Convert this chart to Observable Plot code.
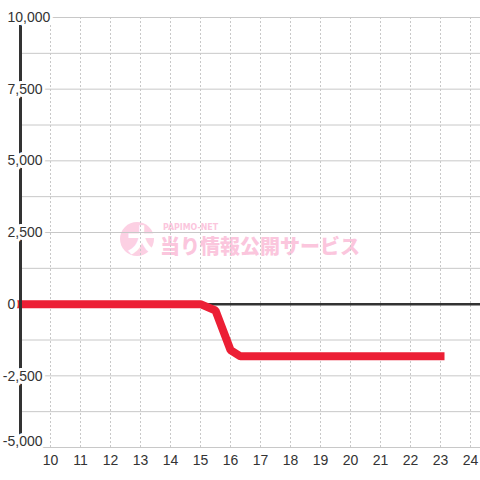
<!DOCTYPE html>
<html>
<head>
<meta charset="utf-8">
<script src="https://cdn.jsdelivr.net/npm/d3@7"></script>
<script src="https://cdn.jsdelivr.net/npm/@observablehq/plot@0.6"></script>
<style>
  html, body { margin: 0; padding: 0; background: #ffffff; }
  #wrap { position: relative; width: 480px; height: 480px; }
  #wm { position: absolute; left: 0; top: 0; }
  #chart { position: absolute; left: 0; top: 0; }
</style>
</head>
<body>
<div id="wrap">
  <svg id="wm" width="480" height="480" xmlns="http://www.w3.org/2000/svg">
    <circle cx="137" cy="239" r="17" fill="#fcd0e3"></circle>
    <text x="142" y="251" text-anchor="middle" font-family="Noto Sans CJK JP" font-weight="900" font-size="30" fill="#ffffff">大</text>
    <text x="163" y="230" font-family="DejaVu Sans" font-weight="bold" font-size="9" fill="#fbc6dd" textLength="55" lengthAdjust="spacingAndGlyphs">PAPIMO-NET</text>
    <text x="160" y="254" font-family="Noto Sans CJK JP" font-weight="900" font-size="20" fill="#fbc6dd" textLength="200" lengthAdjust="spacingAndGlyphs">当り情報公開サービス</text>
  </svg>
  <div id="chart"></div>
</div>
<script>
// Data (hour of day vs. balance)
const hours   = [9, 10, 11, 12, 13, 14, 15, 15.5, 16, 16.33, 17, 18, 19, 20, 21, 22, 23];
const balance = [0, 0, 0, 0, 0, 0, 0, -220, -1600, -1820, -1820, -1820, -1820, -1820, -1820, -1820, -1820];

const xTicks = [10, 11, 12, 13, 14, 15, 16, 17, 18, 19, 20, 21, 22, 23, 24];
const xTickLabels = ["10", "11", "12", "13", "14", "15", "16", "17", "18", "19", "20", "21", "22", "23", "24"];
const yTicks = [10000, 7500, 5000, 2500, 0, -2500, -5000];
const yTickLabels = ["10,000", "7,500", "5,000", "2,500", "0", "-2,500", "-5,000"];
const yGrid = [10000, 8750, 7500, 6250, 5000, 3750, 2500, 1250, 0, -1250, -2500, -3750, -5000];

const series = hours.map((h, i) => ({hour: h, value: balance[i]}));
const xLabels = xTicks.map((t, i) => ({t, label: xTickLabels[i]}));
const yLabels = yTicks.map((t, i) => ({t, label: yTickLabels[i]}));

const font = "Liberation Sans, Arial, sans-serif";
const labelStyle = {
  y: "t", text: "label", frameAnchor: "left", textAnchor: "start",
  fill: "#333333", stroke: "#ffffff", strokeWidth: 6, fontSize: 14, fontFamily: font
};

const chart = Plot.plot({
  width: 480,
  height: 480,
  marginLeft: 20,
  marginRight: 0,
  marginTop: 17,
  marginBottom: 33,
  style: {background: "transparent"},
  x: {domain: [9, 24], range: [20, 470], axis: null},
  y: {domain: [-5000, 10000], range: [447, 17], axis: null},
  marks: [
    Plot.ruleY(yGrid, {stroke: "#c8c8c8", strokeWidth: 1}),
    Plot.ruleX(xTicks, {stroke: "#c8c8c8", strokeWidth: 1, strokeDasharray: "2,2"}),
    Plot.ruleY([0], {stroke: "#333333", strokeWidth: 2.5}),
    Plot.line(series, {
      x: "hour", y: "value", stroke: "#ec1f35", strokeWidth: 8,
      strokeLinecap: "square", strokeLinejoin: "miter"
    }),
    Plot.ruleX([9], {stroke: "#333333", strokeWidth: 3}),
    Plot.text(yLabels.filter(d => d.t >= 0), {...labelStyle, dx: -13}),
    Plot.text(yLabels.filter(d => d.t < 0 && d.t > -5000), {...labelStyle, dx: -17.7, dy: 1}),
    Plot.text(yLabels.filter(d => d.t === -5000), {...labelStyle, dx: -17.7, dy: -6}),
    Plot.text(xLabels, {
      x: "t", text: "label", frameAnchor: "bottom", dy: 13.5, lineAnchor: "middle",
      fill: "#333333", fontSize: 14, fontFamily: font
    })
  ]
});
document.getElementById("chart").appendChild(chart);
</script>
</body>
</html>
